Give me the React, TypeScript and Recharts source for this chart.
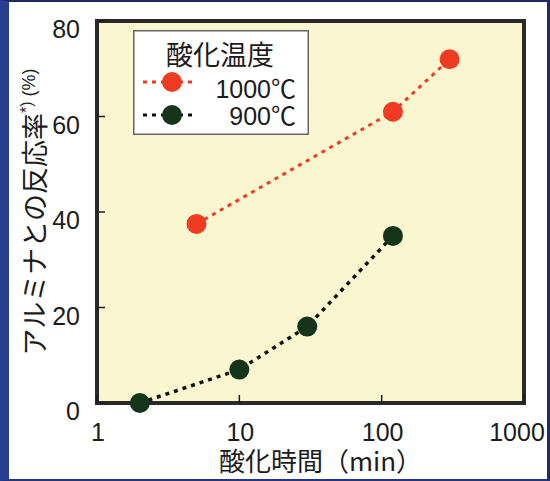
import React from "react";
import {
  ScatterChart,
  Scatter,
  XAxis,
  YAxis,
  CartesianGrid,
  ReferenceArea,
  Legend,
} from "recharts";

// oxidation time (min) vs. reaction rate with alumina (%)
const timeTicks = [1, 10, 100, 1000];
const rateTicks = [0, 20, 40, 60, 80];

const series1000Label = "1000℃";
const series1000Time = [5, 120, 300];
const series1000Rate = [37.5, 61, 72];

const series900Label = "900℃";
const series900Time = [2, 10, 30, 120];
const series900Rate = [0, 7, 16, 35];

const RED = "#ef3b24";
const GREEN = "#15351b";
const INK = "#1c1c1c";
const PLOT_BG = "#faf7d0";
const FONT = '"Liberation Sans", Arial, "Noto Sans CJK JP", sans-serif';
const CJK = '"Noto Sans CJK JP", "Liberation Sans", sans-serif';

const toPoints = (times: number[], rates: number[]) =>
  times.map((t, i) => ({ t, rate: rates[i] }));

const data1000 = toPoints(series1000Time, series1000Rate);
const data900 = toPoints(series900Time, series900Rate);

const dot = (fill: string) => (props: any) =>
  <circle cx={props.cx} cy={props.cy} r={10} fill={fill} />;

const XTick = (props: any) => {
  const { x, y, payload } = props;
  // the last label is nudged left so it stays inside the frame
  const dx = payload.value === 1000 ? -7 : 1;
  return (
    <text x={x + dx} y={y} textAnchor="middle" fontFamily={FONT} fontSize={25} fill={INK}>
      {payload.value}
    </text>
  );
};

const YTick = (props: any) => {
  const { x, y, payload } = props;
  return (
    <text x={x} y={y + 17} textAnchor="end" fontFamily={FONT} fontSize={25} fill={INK}>
      {payload.value}
    </text>
  );
};

const YTitle = (props: any) => {
  const vb = props.viewBox;
  const cx = 33;
  const cy = vb.y + vb.height / 2;
  return (
    <text
      x={cx}
      y={cy}
      transform={`rotate(-90, ${cx}, ${cy})`}
      textAnchor="middle"
      dominantBaseline="central"
      fontFamily={CJK}
      fontSize={27}
      fill={INK}
    >
      アルミナとの反応率
      <tspan fontFamily={FONT} fontSize={16} dy={-7}>*)</tspan>
      <tspan fontFamily={FONT} fontSize={18} dy={3}> (%)</tspan>
    </text>
  );
};

const XTitle = (props: any) => {
  const vb = props.viewBox;
  return (
    <text
      x={vb.x + vb.width / 2 + 10}
      y={vb.y + 68}
      textAnchor="middle"
      fontFamily={CJK}
      fontSize={26}
      fill={INK}
    >
      酸化時間（min）
    </text>
  );
};

const LegendBox = () => (
  <svg width={176} height={105} style={{ display: "block" }}>
    <rect x={0.75} y={0.75} width={174.5} height={103.5} fill="#ffffff" stroke="#666" strokeWidth={1.5} />
    <text x={87} y={35} textAnchor="middle" fontFamily={CJK} fontSize={27} fill={INK}>
      酸化温度
    </text>
    <line x1={10} x2={64} y1={52} y2={52} stroke={RED} strokeWidth={3} strokeDasharray="4 5" />
    <circle cx={39} cy={52} r={10} fill={RED} />
    <text x={163} y={68} textAnchor="end" fontFamily={FONT} fontSize={25} fill={INK}>
      {series1000Label}
    </text>
    <line x1={10} x2={64} y1={85} y2={85} stroke="#111" strokeWidth={3} strokeDasharray="4 5" />
    <circle cx={39} cy={85} r={10} fill={GREEN} />
    <text x={163} y={95} textAnchor="end" fontFamily={FONT} fontSize={25} fill={INK}>
      {series900Label}
    </text>
  </svg>
);

export default function App() {
  return (
    <div
      style={{
        position: "absolute",
        left: 0,
        top: 0,
        width: 550,
        height: 481,
        boxSizing: "border-box",
        background: "#ffffff",
        borderLeft: "9px solid #283f8f",
        borderTop: "2px solid #1f2b66",
        borderRight: "3px solid #1f2b66",
        borderBottom: "2px solid #243682",
      }}
    >
      <div style={{ position: "absolute", left: -9, top: -2 }}>
        <ScatterChart width={550} height={481} margin={{ top: 21, right: 26, bottom: 0, left: 0 }}>
          <CartesianGrid fill={PLOT_BG} horizontal={false} vertical={false} />
          <XAxis
            dataKey="t"
            type="number"
            scale="log"
            domain={[1, 1000]}
            ticks={timeTicks}
            allowDataOverflow
            height={78}
            axisLine={false}
            tickSize={-8}
            tickMargin={46}
            tickLine={{ stroke: INK, strokeWidth: 1.5 }}
            tick={<XTick />}
            label={<XTitle />}
          />
          <YAxis
            dataKey="rate"
            type="number"
            domain={[0, 80]}
            ticks={rateTicks}
            width={97}
            axisLine={false}
            tickSize={-8}
            tickMargin={25}
            tickLine={{ stroke: INK, strokeWidth: 1.5 }}
            tick={<YTick />}
            label={<YTitle />}
          />
          <ReferenceArea
            x1={1}
            x2={1000}
            y1={0}
            y2={80}
            fill="none"
            fillOpacity={0}
            stroke="#2a2a2a"
            strokeWidth={4}
          />
          <Legend
            layout="vertical"
            align="center"
            verticalAlign="middle"
            wrapperStyle={{ left: 133, top: 30, width: 176, height: 105 }}
            content={() => <LegendBox />}
          />
          <Scatter
            name={series1000Label}
            data={data1000}
            fill={RED}
            line={{ stroke: RED, strokeWidth: 3, strokeDasharray: "4 5" }}
            lineType="joint"
            shape={dot(RED)}
            isAnimationActive={false}
          />
          <Scatter
            name={series900Label}
            data={data900}
            fill={GREEN}
            line={{ stroke: "#111", strokeWidth: 3.5, strokeDasharray: "4 5" }}
            lineType="joint"
            shape={dot(GREEN)}
            isAnimationActive={false}
          />
        </ScatterChart>
      </div>
    </div>
  );
}
